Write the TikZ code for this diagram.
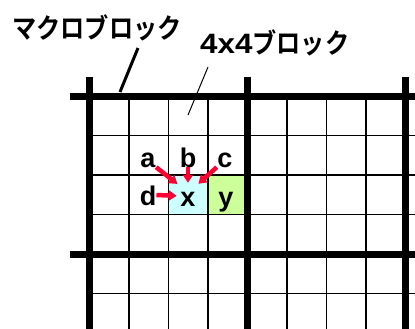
\documentclass[tikz,border=0pt]{standalone}
\usepackage{fontspec}
\setmainfont{Liberation Sans}
\newfontfamily\jpfont{Noto Sans CJK JP}[FakeStretch=0.88, BoldFont={Noto Sans CJK JP Bold}]
\newfontfamily\numfont{Liberation Sans}[FakeStretch=1.12]
\usetikzlibrary{arrows.meta}
\definecolor{cellblue}{RGB}{204,255,255}
\definecolor{cellgreen}{RGB}{204,255,153}
\definecolor{arrowred}{RGB}{255,0,51}

\begin{document}
\begin{tikzpicture}[x=1pt, y=-1pt,
    thin grid/.style={line width=1.5pt},
    thick grid/.style={line width=7pt},
    letter/.style={font=\fontsize{27}{27}\selectfont\bfseries, inner sep=0pt, minimum width=16pt, text height=20pt, text depth=0pt, anchor=base},
    title/.style={font=\jpfont\fontsize{27.5}{27.5}\selectfont\bfseries, inner sep=0pt, anchor=base west},
    redarrow/.style={-{Triangle[width=10pt,length=8pt]}, line width=4.5pt, arrowred, shorten >=3pt, shorten <=0pt}]
  \useasboundingbox (0,0) rectangle (415,329);
  \begin{scope}
    \clip (0,0) rectangle (415,329);
    % Cells
    \fill[cellblue] (168.5,175) rectangle (208,214.5);
    \fill[cellgreen] (208,175) rectangle (247.5,214.5);
    % 4x4 blocks
    \foreach \i in {1,2,3,5,6,7}
      \draw[thin grid] (89.5+39.5*\i,96) -- (89.5+39.5*\i,335);
    \foreach \j in {1,2,3,5,6}
      \draw[thin grid] (89.5,96+39.5*\j) -- (420,96+39.5*\j);
    % Macroblocks
    \foreach \j in {96,254}
      \draw[thick grid] (70,\j) -- (420,\j);
    \foreach \i in {89.5,247.5,405.5}
      \draw[thick grid] (\i,77) -- (\i,335);
  \end{scope}

  % Neighbours
  \node[letter] (a) at (148,167) {a};
  \node[letter] (b) at (188,167) {b};
  \node[letter] (c) at (225,167) {c};
  \node[letter] (d) at (148,205) {d};
  \node[letter] (x) at (188,206) {x};
  \node[letter] (y) at (226,206) {y};

  \draw[redarrow] (a.south east) -- (x.north west);
  \draw[redarrow] (b.south) -- (x.north);
  \draw[redarrow] (c.south west) -- (x.north east);
  \draw[redarrow] (d.east) -- (x.west);

  % Labels
  \node[title] (macro) at (12,39) {マクロブロック};
  \node[title] (blk) at (200,53.5) {{\numfont\fontsize{28}{28}\selectfont\bfseries 4x4}ブロック};
  \coordinate (macroend) at (120,92);
  \coordinate (blkend) at (188,115);
  \draw[line width=3pt] ([xshift=126pt,yshift=-9pt]macro.base west) -- (macroend);
  \draw[line width=1pt] ([xshift=8pt,yshift=-13.5pt]blk.base west) -- (blkend);
\end{tikzpicture}
\end{document}
